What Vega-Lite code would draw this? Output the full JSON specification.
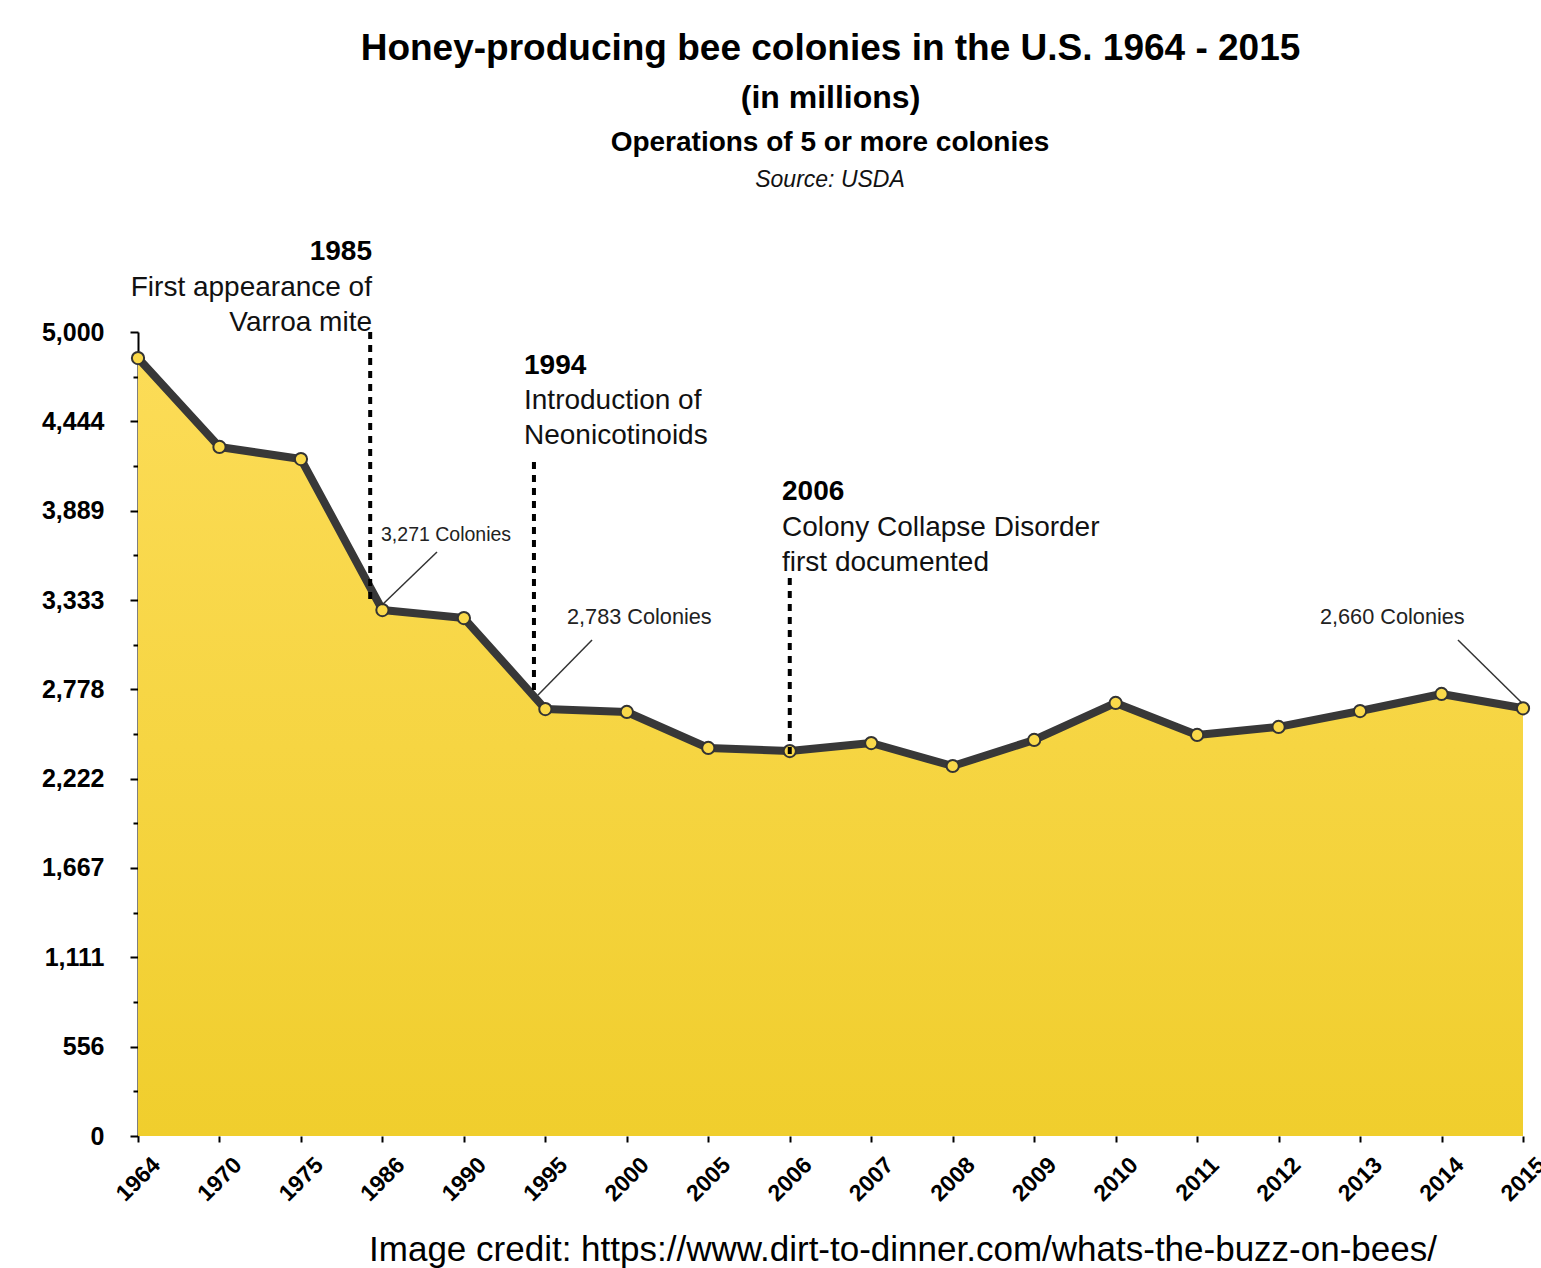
{
  "$schema": "https://vega.github.io/schema/vega-lite/v6.json",
  "width": 1385,
  "height": 804,
  "autosize": {"type": "none"},
  "padding": {"left": 138, "top": 332, "right": 18, "bottom": 132},
  "background": "white",
  "config": {"view": {"stroke": null}},
  "title": {
    "text": "Honey-producing bee colonies in the U.S. 1964 - 2015",
    "subtitle": "(in millions)",
    "anchor": "middle",
    "font": "Liberation Sans",
    "fontSize": 37,
    "fontWeight": "bold",
    "color": "black",
    "subtitleFont": "Liberation Sans",
    "subtitleFontSize": 32,
    "subtitleFontWeight": "bold",
    "subtitleColor": "black",
    "subtitlePadding": 15,
    "offset": 14
  },
  "datasets": {
    "colonies": [
      {"year": "1964", "i": 0, "colonies": 4838},
      {"year": "1970", "i": 1, "colonies": 4285},
      {"year": "1975", "i": 2, "colonies": 4210},
      {"year": "1986", "i": 3, "colonies": 3271},
      {"year": "1990", "i": 4, "colonies": 3221},
      {"year": "1995", "i": 5, "colonies": 2655},
      {"year": "2000", "i": 6, "colonies": 2637},
      {"year": "2005", "i": 7, "colonies": 2413},
      {"year": "2006", "i": 8, "colonies": 2394},
      {"year": "2007", "i": 9, "colonies": 2444},
      {"year": "2008", "i": 10, "colonies": 2301},
      {"year": "2009", "i": 11, "colonies": 2463},
      {"year": "2010", "i": 12, "colonies": 2693},
      {"year": "2011", "i": 13, "colonies": 2494},
      {"year": "2012", "i": 14, "colonies": 2544},
      {"year": "2013", "i": 15, "colonies": 2643},
      {"year": "2014", "i": 16, "colonies": 2749},
      {"year": "2015", "i": 17, "colonies": 2660}
    ],
    "events": [
      {"event": "1985", "pos": 2.85, "top": 5000, "bottom": 3333, "labelPos": 2.872, "yearY": 5497, "descY": 5274, "desc": "First appearance of\nVarroa mite"},
      {"event": "1994", "pos": 4.86, "top": 4192, "bottom": 2760, "labelPos": 4.738, "yearY": 4789, "descY": 4571, "desc": "Introduction of\nNeonicotinoids"},
      {"event": "2006", "pos": 8.0, "top": 3470, "bottom": 2370, "labelPos": 7.905, "yearY": 4005, "descY": 3781, "desc": "Colony Collapse Disorder\nfirst documented"}
    ],
    "callouts": [
      {"label": "3,271 Colonies", "tx": 2.983, "ty": 3738, "ax": 2.995, "ay": 3302, "bx": 3.67, "by": 3632},
      {"label": "2,783 Colonies", "tx": 5.266, "ty": 3228, "ax": 4.91, "ay": 2743, "bx": 5.573, "by": 3085},
      {"label": "2,660 Colonies", "tx": 14.508, "ty": 3228, "ax": 16.988, "ay": 2693, "bx": 16.202, "by": 3085}
    ],
    "operations": [{"text": "Operations of 5 or more colonies", "x": 8.494, "y": 6175}],
    "source": [{"text": "Source: USDA", "x": 8.494, "y": 5945}],
    "credit": [{"text": "Image credit: https://www.dirt-to-dinner.com/whats-the-buzz-on-bees/", "x": 9.39, "y": -709}]
  },
  "layer": [
    {
      "data": {"name": "colonies"},
      "mark": {
        "type": "area",
        "color": {
          "gradient": "linear", "x1": 0, "y1": 0, "x2": 0, "y2": 1,
          "stops": [{"offset": 0, "color": "#FCDC57"}, {"offset": 1, "color": "#F0CE2D"}]
        }
      },
      "encoding": {
        "x": {
          "field": "i", "type": "quantitative",
          "scale": {"domain": [0, 17], "nice": false, "zero": false},
          "axis": {
            "values": [0, 1, 2, 3, 4, 5, 6, 7, 8, 9, 10, 11, 12, 13, 14, 15, 16, 17],
            "labelExpr": "['1964','1970','1975','1986','1990','1995','2000','2005','2006','2007','2008','2009','2010','2011','2012','2013','2014','2015'][datum.value]",
            "title": null,
            "domain": false,
            "grid": false,
            "tickColor": "black",
            "tickSize": 6,
            "tickWidth": 2,
            "labelAngle": -45,
            "labelAlign": "center",
            "labelBaseline": "middle",
            "labelPadding": 37,
            "labelFont": "Liberation Sans",
            "labelFontSize": 23,
            "labelFontWeight": "bold",
            "labelColor": "black",
            "labelOverlap": false,
            "labelBound": false,
            "labelFlush": false
          }
        },
        "y": {
          "field": "colonies", "type": "quantitative",
          "scale": {"domain": [0, 5000], "nice": false},
          "axis": {
            "values": [0, 277.78, 555.56, 833.33, 1111.11, 1388.89, 1666.67, 1944.44, 2222.22, 2500, 2777.78, 3055.56, 3333.33, 3611.11, 3888.89, 4166.67, 4444.44, 4722.22, 5000],
            "labelExpr": "abs(datum.value/555.5556 - round(datum.value/555.5556)) < 0.01 ? format(datum.value, ',.0f') : ''",
            "title": null,
            "grid": false,
            "domainColor": "black",
            "domainWidth": 2,
            "tickColor": "black",
            "tickWidth": 2,
            "tickSize": {"condition": {"test": "abs(datum.value/555.5556 - round(datum.value/555.5556)) < 0.01", "value": 8}, "value": 5},
            "labelPadding": 26,
            "labelFont": "Liberation Sans",
            "labelFontSize": 25,
            "labelFontWeight": "bold",
            "labelColor": "black",
            "labelOverlap": false,
            "labelFlush": false
          }
        }
      }
    },
    {
      "data": {"name": "colonies"},
      "mark": {"type": "line", "color": "#383838", "strokeWidth": 8, "strokeJoin": "round"},
      "encoding": {
        "x": {"field": "i", "type": "quantitative"},
        "y": {"field": "colonies", "type": "quantitative"}
      }
    },
    {
      "data": {"name": "colonies"},
      "mark": {"type": "point", "shape": "circle", "filled": true, "size": 150, "fill": "#FAD94A", "stroke": "#333333", "strokeWidth": 2, "opacity": 1},
      "encoding": {
        "x": {"field": "i", "type": "quantitative"},
        "y": {"field": "colonies", "type": "quantitative"}
      }
    },
    {
      "data": {"name": "events"},
      "mark": {"type": "rule", "color": "black", "strokeWidth": 4, "strokeDash": [7, 6]},
      "encoding": {
        "x": {"field": "pos", "type": "quantitative"},
        "y": {"field": "top", "type": "quantitative"},
        "y2": {"field": "bottom"}
      }
    },
    {
      "data": {"name": "callouts"},
      "mark": {"type": "rule", "color": "#333333", "strokeWidth": 1.5},
      "encoding": {
        "x": {"field": "ax", "type": "quantitative"},
        "x2": {"field": "bx"},
        "y": {"field": "ay", "type": "quantitative"},
        "y2": {"field": "by"}
      }
    },
    {
      "data": {"name": "callouts"},
      "mark": {"type": "text", "align": "left", "baseline": "middle", "font": "Liberation Sans", "color": "#222222"},
      "encoding": {
        "x": {"field": "tx", "type": "quantitative"},
        "y": {"field": "ty", "type": "quantitative"},
        "text": {"field": "label"},
        "size": {"condition": {"test": "datum.label == '3,271 Colonies'", "value": 19.5}, "value": 21.7}
      }
    },
    {
      "data": {"name": "events"},
      "transform": [{"filter": "datum.event == '1985'"}],
      "layer": [
        {
          "mark": {"type": "text", "align": "right", "baseline": "middle", "font": "Liberation Sans", "fontSize": 28, "fontWeight": "bold", "color": "black"},
          "encoding": {
            "x": {"field": "labelPos", "type": "quantitative"},
            "y": {"field": "yearY", "type": "quantitative"},
            "text": {"field": "event"}
          }
        },
        {
          "mark": {"type": "text", "align": "right", "baseline": "middle", "font": "Liberation Sans", "fontSize": 28, "lineBreak": "\n", "lineHeight": 35, "color": "#111111"},
          "encoding": {
            "x": {"field": "labelPos", "type": "quantitative"},
            "y": {"field": "descY", "type": "quantitative"},
            "text": {"field": "desc"}
          }
        }
      ]
    },
    {
      "data": {"name": "events"},
      "transform": [{"filter": "datum.event != '1985'"}],
      "layer": [
        {
          "mark": {"type": "text", "align": "left", "baseline": "middle", "font": "Liberation Sans", "fontSize": 28, "fontWeight": "bold", "color": "black"},
          "encoding": {
            "x": {"field": "labelPos", "type": "quantitative"},
            "y": {"field": "yearY", "type": "quantitative"},
            "text": {"field": "event"}
          }
        },
        {
          "mark": {"type": "text", "align": "left", "baseline": "middle", "font": "Liberation Sans", "fontSize": 28, "lineBreak": "\n", "lineHeight": 35, "color": "#111111"},
          "encoding": {
            "x": {"field": "labelPos", "type": "quantitative"},
            "y": {"field": "descY", "type": "quantitative"},
            "text": {"field": "desc"}
          }
        }
      ]
    },
    {
      "data": {"name": "operations"},
      "mark": {"type": "text", "align": "center", "baseline": "middle", "font": "Liberation Sans", "fontSize": 28, "fontWeight": "bold", "color": "black"},
      "encoding": {
        "x": {"field": "x", "type": "quantitative"},
        "y": {"field": "y", "type": "quantitative"},
        "text": {"field": "text"}
      }
    },
    {
      "data": {"name": "source"},
      "mark": {"type": "text", "align": "center", "baseline": "middle", "font": "Liberation Sans", "fontSize": 23, "fontStyle": "italic", "color": "#111111"},
      "encoding": {
        "x": {"field": "x", "type": "quantitative"},
        "y": {"field": "y", "type": "quantitative"},
        "text": {"field": "text"}
      }
    },
    {
      "data": {"name": "credit"},
      "mark": {"type": "text", "align": "center", "baseline": "middle", "font": "Liberation Sans Narrow, Arial Narrow, Liberation Sans", "fontSize": 35, "color": "black"},
      "encoding": {
        "x": {"field": "x", "type": "quantitative"},
        "y": {"field": "y", "type": "quantitative"},
        "text": {"field": "text"}
      }
    }
  ]
}
